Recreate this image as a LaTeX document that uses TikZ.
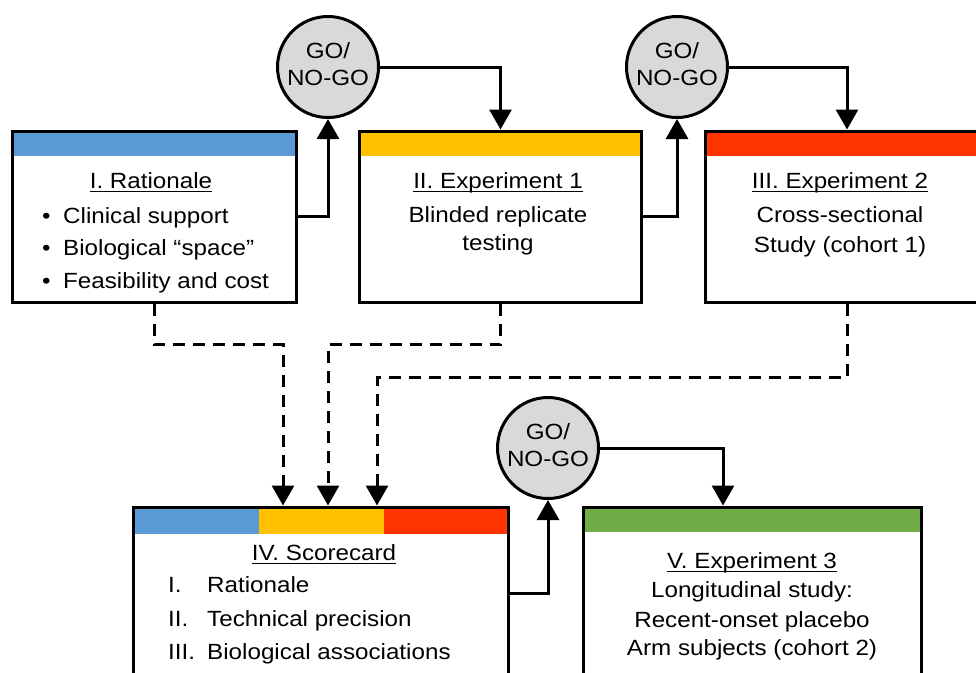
\documentclass[tikz,border=0pt]{standalone}
\usepackage{fontspec}
\setmainfont{Liberation Sans}[FakeStretch=1.1]
\usetikzlibrary{arrows.meta}
\definecolor{cblue}{HTML}{5B9BD5}
\definecolor{cyellow}{HTML}{FFC000}
\definecolor{cred}{HTML}{FF3300}
\definecolor{cgreen}{HTML}{70AD47}
\definecolor{cgray}{HTML}{D9D9D9}
\newcommand\myul[1]{\setbox0\hbox{#1}\rlap{\rule[-3.8pt]{\wd0}{1.3pt}}\box0}
\tikzset{
  box/.style={draw, line width=3pt, fill=white, inner sep=0pt},
  bar/.style={path picture={\fill[#1] (path picture bounding box.north west) rectangle ([yshift=-25pt]path picture bounding box.north east);}},
  circ/.style={circle, draw, line width=3pt, fill=cgray, minimum size=101pt, inner sep=0pt},
  txt/.style={anchor=base, inner sep=0pt},
  txtw/.style={anchor=base west, inner sep=0pt},
  arr/.style={line width=3pt, -{Triangle[length=20pt,width=22pt]}},
  dashln/.style={line width=3pt, dash pattern=on 12pt off 8pt, -{Triangle[length=20pt,width=22pt]}}
}
\begin{document}
\begin{tikzpicture}[x=1pt,y=-1pt,font=\fontsize{22}{33}\selectfont]
\useasboundingbox (0,0) rectangle (976,672);
\clip (0,0) rectangle (976,672);

% boxes
\node[box, bar=cblue, minimum width=284pt, minimum height=171pt] (b1) at (154,216.5) {};
\node[box, bar=cyellow, minimum width=282pt, minimum height=171pt] (b2) at (500.5,216.5) {};
\node[box, bar=cred, minimum width=284pt, minimum height=171pt] (b3) at (847,216.5) {};
\node[box, minimum width=375pt, minimum height=172pt,
  path picture={
    \fill[cblue] (path picture bounding box.north west) rectangle ([xshift=126pt,yshift=-27pt]path picture bounding box.north west);
    \fill[cyellow] ([xshift=126pt]path picture bounding box.north west) rectangle ([xshift=251pt,yshift=-27pt]path picture bounding box.north west);
    \fill[cred] ([xshift=251pt]path picture bounding box.north west) rectangle ([yshift=-27pt]path picture bounding box.north east);
  }] (b4) at (320.5,593) {};
\node[box, bar=cgreen, minimum width=338pt, minimum height=172pt] (b5) at (752,593) {};

% circles
\node[circ] (c1) at (328,67) {};
\node[circ] (c2) at (677,67) {};
\node[circ] (c3) at (548,448) {};
\node[txt] (c1a) at (328,58) {GO/};
\node[txt] (c1b) at (328,85) {NO-GO};
\node[txt] (c2a) at (677,58) {GO/};
\node[txt] (c2b) at (677,85) {NO-GO};
\node[txt] (c3a) at (548,439) {GO/};
\node[txt] (c3b) at (548,466) {NO-GO};

% box I text
\node[txt] (t1) at (151,188) {\myul{I. Rationale}};
\node[txtw] (t1b1) at (42,223) {•};
\node[txtw] (t1i1) at (63,223) {Clinical support};
\node[txtw] (t1b2) at (42,255) {•};
\node[txtw] (t1i2) at (63,255) {Biological “space”};
\node[txtw] (t1b3) at (42,288) {•};
\node[txtw] (t1i3) at (63,288) {Feasibility and cost};

% box II text
\node[txt] (t2) at (498,188) {\myul{II. Experiment 1}};
\node[txt] (t2a) at (498,222) {Blinded replicate};
\node[txt] (t2b) at (498,250) {testing};

% box III text
\node[txt] (t3) at (840,188) {\myul{III. Experiment 2}};
\node[txt] (t3a) at (840,222) {Cross-sectional};
\node[txt] (t3b) at (840,252) {Study (cohort 1)};

% box IV text
\node[txt] (t4) at (324,560) {\myul{IV. Scorecard}};
\node[txtw] (t4n1) at (168,592) {I.};
\node[txtw] (t4i1) at (207,592) {Rationale};
\node[txtw] (t4n2) at (168,626) {II.};
\node[txtw] (t4i2) at (207,626) {Technical precision};
\node[txtw] (t4n3) at (168,659) {III.};
\node[txtw] (t4i3) at (207,659) {Biological associations};

% box V text
\node[txt] (t5) at (752,568) {\myul{V. Experiment 3}};
\node[txt] (t5a) at (752,597) {Longitudinal study:};
\node[txt] (t5b) at (752,627) {Recent-onset placebo};
\node[txt] (t5c) at (752,655) {Arm subjects (cohort 2)};

% solid connectors
\draw[arr] (b1.east) -| (c1.south);
\draw[arr] (c1.east) -| (b2.north);
\draw[arr] (b2.east) -| (c2.south);
\draw[arr] (c2.east) -| (b3.north);
\draw[arr] (b4.east) -| (c3.south);
\draw[arr] (c3.east) -| ([xshift=-29pt]b5.north);

% dashed connectors
\draw[dashln] (b1.south) -- ++(0,41) -| ([xshift=-37.5pt]b4.north);
\draw[dashln] (b2.south) -- ++(0,41) -| ([xshift=7.5pt]b4.north);
\draw[dashln] (b3.south) -- ++(0,74) -| ([xshift=56.5pt]b4.north);
\end{tikzpicture}
\end{document}
